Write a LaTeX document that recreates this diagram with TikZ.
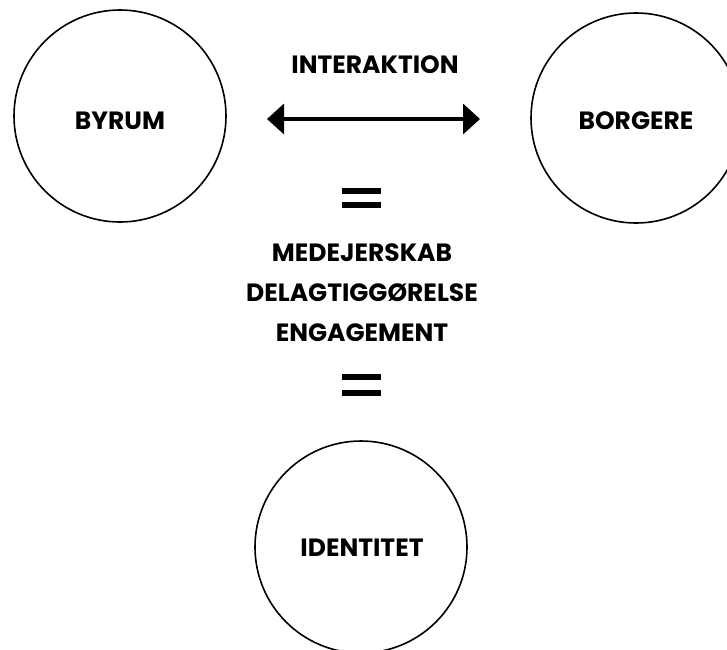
\documentclass[tikz,border=0pt]{standalone}
\usepackage{fontspec}
\setmainfont{Poppins}[BoldFont=* Bold]
\usetikzlibrary{arrows.meta}
\begin{document}
\begin{tikzpicture}[x=1pt,y=-1pt,
  ring/.style={draw=black,line width=1.6pt,circle,minimum size=#1,inner sep=0pt},
  lbl/.style={anchor=base,inner sep=0pt,font=\fontsize{25}{25}\selectfont\bfseries},
  eqbar/.style={fill=black,draw=none},
  twoway/.style={line width=3.5pt,{Triangle[length=17pt,width=30pt]}-{Triangle[length=17pt,width=30pt]}}]
\useasboundingbox (0,0) rectangle (727,649);
\node[ring=212pt] (byrum) at (120,116) {};
\node[ring=210pt] (borgere) at (636,118) {};
\node[ring=212pt] (identitet) at (361,547) {};
\node[lbl] (tbyrum) at (120,129.5) {BYRUM};
\node[lbl] (tborgere) at (636,129.5) {BORGERE};
\node[lbl] (tidentitet) at (362,556.5) {IDENTITET};
\node[lbl] (tinter) at (375,73.5) {INTERAKTION};
\node[lbl] (tmed) at (362,261.5) {MEDEJERSKAB};
\node[lbl] (tdel) at (362,301.5) {DELAGTIGGØRELSE};
\node[lbl] (teng) at (362,341.5) {ENGAGEMENT};
\coordinate (aL) at (267,119);
\coordinate (aR) at (480,119);
\draw[twoway] (aL) -- (aR);
\fill[eqbar] (342,188) rectangle (381,194);
\fill[eqbar] (342,202) rectangle (381,208);
\fill[eqbar] (342,374) rectangle (381,380);
\fill[eqbar] (342,390) rectangle (381,396);
\end{tikzpicture}
\end{document}
